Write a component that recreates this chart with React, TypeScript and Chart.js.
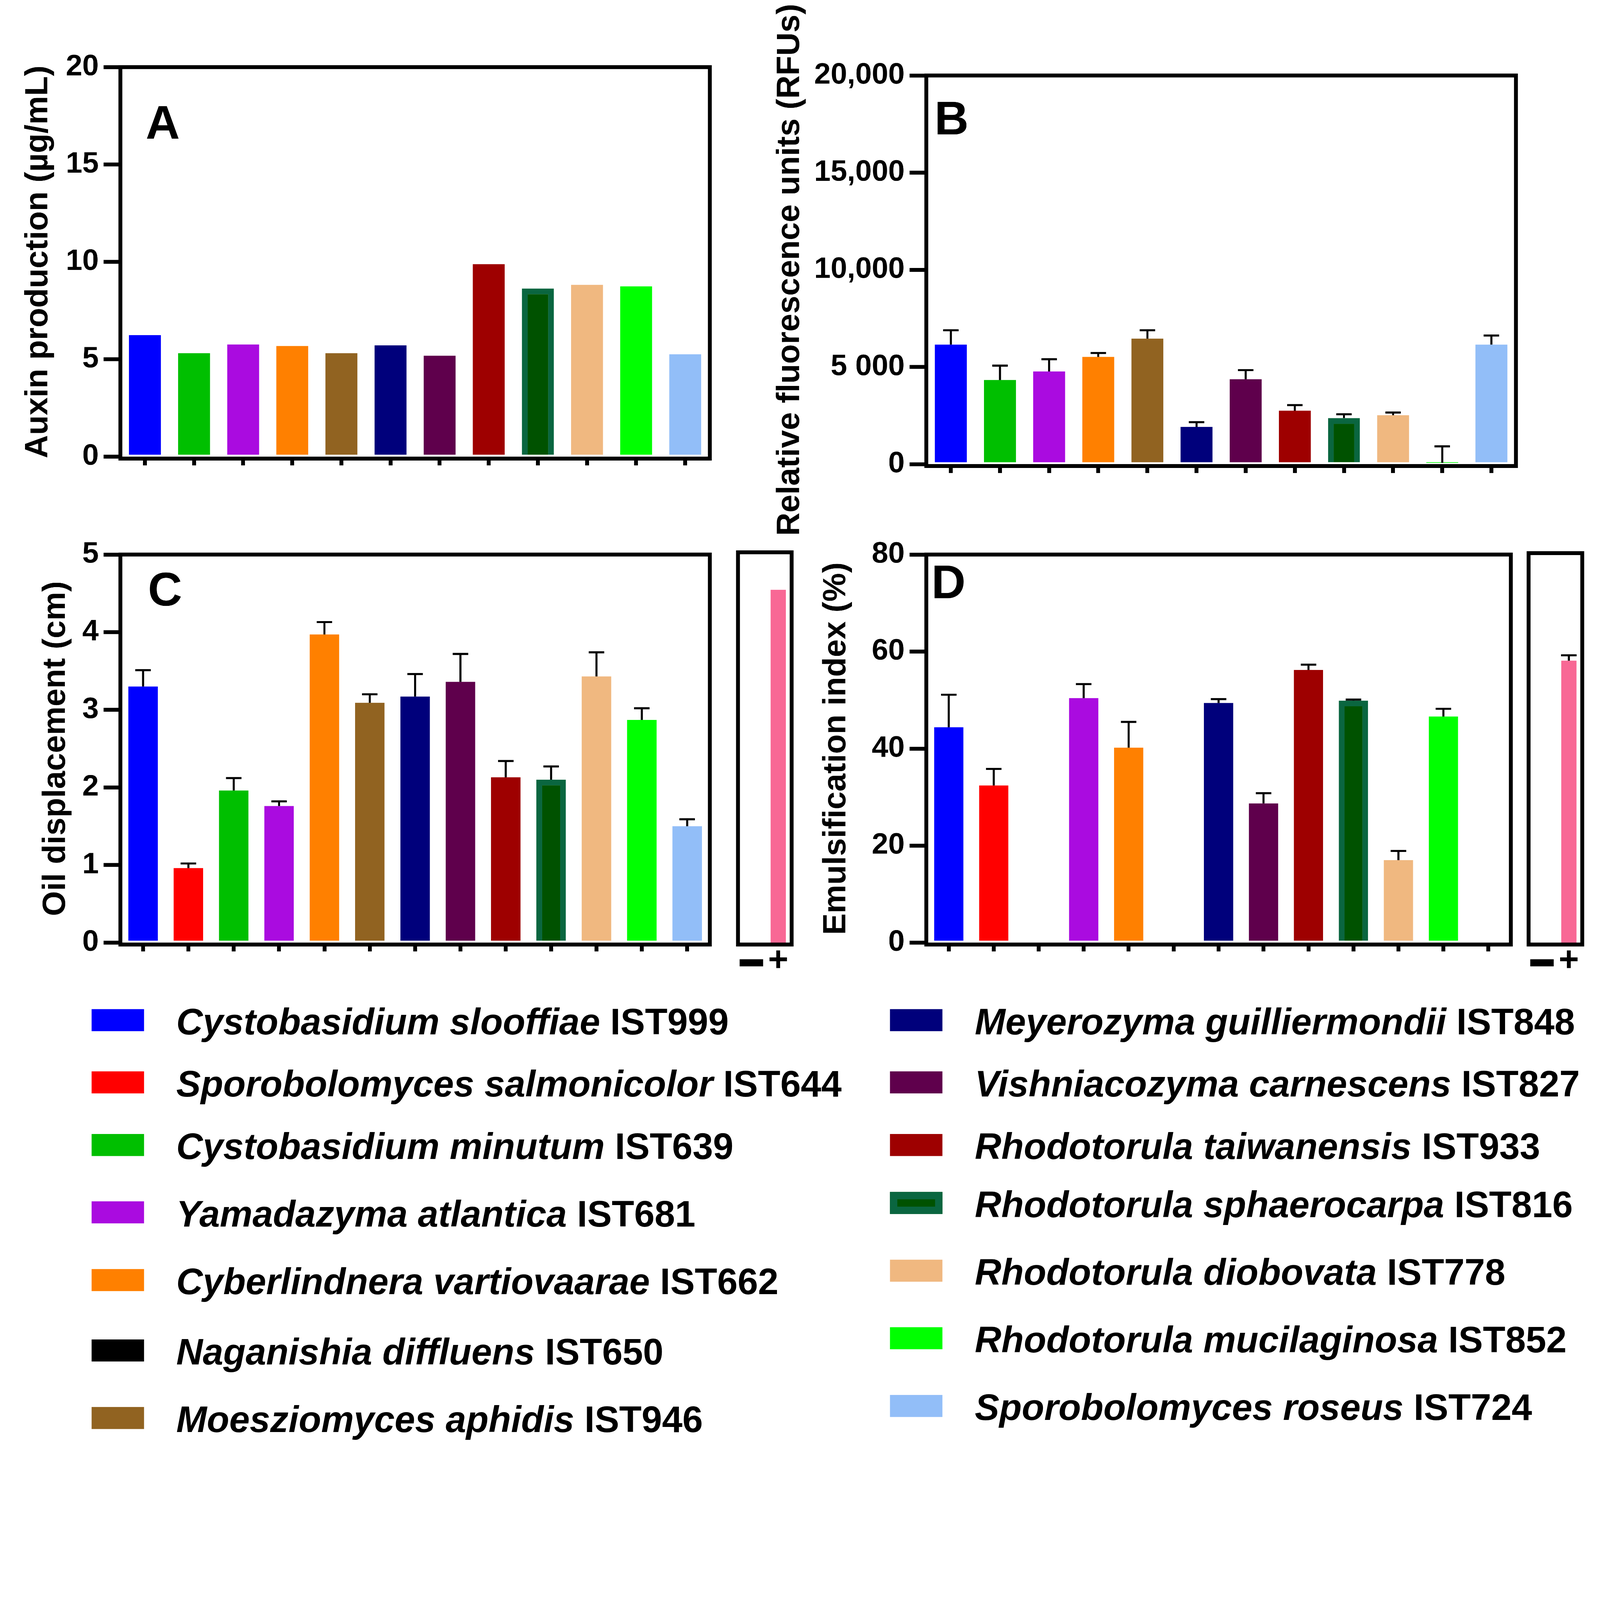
import { useEffect, useRef, useState } from 'react';
import { Chart, registerables } from 'chart.js';

Chart.register(...registerables);

const FONT = '"Liberation Sans", Arial, Helvetica, sans-serif';
const PAGE_W = 7842;
const PAGE_H = 7110;
const LINE = 19; // frame / tick thickness

// categories
const CATS_AB = [
  'Cystobasidium slooffiae', 'Cystobasidium minutum', 'Yamadazyma atlantica', 'Cyberlindnera vartiovaarae',
  'Moesziomyces aphidis', 'Meyerozyma guilliermondii', 'Vishniacozyma carnescens', 'Rhodotorula taiwanensis',
  'Rhodotorula sphaerocarpa', 'Rhodotorula diobovata', 'Rhodotorula mucilaginosa', 'Sporobolomyces roseus',
];
const CATS_CD = [
  'Cystobasidium slooffiae', 'Sporobolomyces salmonicolor', 'Cystobasidium minutum', 'Yamadazyma atlantica',
  'Cyberlindnera vartiovaarae', 'Moesziomyces aphidis', 'Meyerozyma guilliermondii', 'Vishniacozyma carnescens',
  'Rhodotorula taiwanensis', 'Rhodotorula sphaerocarpa', 'Rhodotorula diobovata', 'Rhodotorula mucilaginosa',
  'Sporobolomyces roseus',
];
const CONTROLS = ['\u25AC', '+'];

// values (mean) and upper SD
const AUXIN = [6.24, 5.31, 5.76, 5.68, 5.31, 5.71, 5.18, 9.88, 8.63, 8.82, 8.74, 5.26];
const RFU = [6150, 4330, 4770, 5520, 6460, 1920, 4370, 2750, 2370, 2520, 65, 6150];
const RFU_SD = [740, 740, 630, 200, 430, 240, 470, 290, 200, 140, 850, 470];
const OIL = [3.3, 0.96, 1.96, 1.76, 3.97, 3.09, 3.17, 3.36, 2.13, 2.1, 3.43, 2.87, 1.5];
const OIL_SD = [0.21, 0.06, 0.16, 0.06, 0.16, 0.11, 0.29, 0.36, 0.21, 0.17, 0.31, 0.15, 0.09];
const OIL_CTRL = [0, 4.52];
const OIL_CTRL_SD = [0, 0];
const EI = [44.4, 32.4, 0, 50.4, 40.2, 0, 49.4, 28.7, 56.2, 49.9, 17.0, 46.6, 0];
const EI_SD = [6.7, 3.4, 0, 2.9, 5.3, 0, 0.8, 2.1, 1.1, 0.2, 1.9, 1.6, 0];
const EI_CTRL = [0, 57.9];
const EI_CTRL_SD = [0, 1.1];

// tick labels
const A_TICKS = ['0', '5', '10', '15', '20'];
const B_TICKS = ['0', '5 000', '10,000', '15,000', '20,000'];
const C_TICKS = ['0', '1', '2', '3', '4', '5'];
const D_TICKS = ['0', '20', '40', '60', '80'];

const COLOR: Record<string, string> = {
  'Cystobasidium slooffiae': '#0000FF',
  'Sporobolomyces salmonicolor': '#FF0000',
  'Cystobasidium minutum': '#00BF00',
  'Yamadazyma atlantica': '#AA0BE0',
  'Cyberlindnera vartiovaarae': '#FF8000',
  'Naganishia diffluens': '#000000',
  'Moesziomyces aphidis': '#916321',
  'Meyerozyma guilliermondii': '#00007B',
  'Vishniacozyma carnescens': '#5F004C',
  'Rhodotorula taiwanensis': '#9E0000',
  'Rhodotorula sphaerocarpa': '#005200',
  'Rhodotorula diobovata': '#F0B880',
  'Rhodotorula mucilaginosa': '#00FF00',
  'Sporobolomyces roseus': '#92BEF8',
};
const EDGE_GREEN = '#0A6640';
const PINK = '#F86895';

const LEGEND_LEFT = [
  ['Cystobasidium slooffiae', 'IST999'],
  ['Sporobolomyces salmonicolor', 'IST644'],
  ['Cystobasidium minutum', 'IST639'],
  ['Yamadazyma atlantica', 'IST681'],
  ['Cyberlindnera vartiovaarae', 'IST662'],
  ['Naganishia diffluens', 'IST650'],
  ['Moesziomyces aphidis', 'IST946'],
];
const LEGEND_RIGHT = [
  ['Meyerozyma guilliermondii', 'IST848'],
  ['Vishniacozyma carnescens', 'IST827'],
  ['Rhodotorula taiwanensis', 'IST933'],
  ['Rhodotorula sphaerocarpa', 'IST816'],
  ['Rhodotorula diobovata', 'IST778'],
  ['Rhodotorula mucilaginosa', 'IST852'],
  ['Sporobolomyces roseus', 'IST724'],
];
const LEFT_ROWS_Y = [5000, 5305, 5612, 5942, 6274, 6619, 6950];
const RIGHT_ROWS_Y = [5000, 5305, 5612, 5896, 6228, 6559, 6891];

interface PanelSpec {
  id: string;
  canvas: { x: number; y: number; w: number; h: number };
  // L/T/R = centre of the frame lines, B = value zero (top edge of the bottom line)
  area: { L: number; T: number; R: number; B: number };
  labels: string[];
  values: number[];
  sd?: number[];
  colors: string[];
  max: number;
  step: number;
  tickLabels?: string[];
  barPct: number;
  title?: string;
  titleDx?: number;
  letter?: string;
  letterDx?: number;
  letterDy?: number;
  control?: boolean;
}

const decoPlugin = {
  id: 'deco',
  afterDatasetsDraw(chart: any, _args: any, opts: any) {
    const { ctx, chartArea: a } = chart;
    const y = chart.scales.y;
    const meta = chart.getDatasetMeta(0);
    const vals = chart.data.datasets[0].data as number[];
    const sd: number[] = opts.sd || [];
    ctx.save();
    ctx.strokeStyle = '#000';
    ctx.lineCap = 'butt';
    meta.data.forEach((bar: any, i: number) => {
      const e = sd[i];
      if (!e) return;
      const y0 = y.getPixelForValue(vals[i]);
      const y1 = y.getPixelForValue(vals[i] + e);
      ctx.lineWidth = 10;
      ctx.beginPath();
      ctx.moveTo(bar.x, y0);
      ctx.lineTo(bar.x, y1);
      ctx.stroke();
      ctx.beginPath();
      ctx.moveTo(bar.x - 38, y1);
      ctx.lineTo(bar.x + 38, y1);
      ctx.stroke();
    });
    // frame: bottom line sits just under the zero baseline
    ctx.lineWidth = LINE;
    ctx.lineJoin = 'miter';
    ctx.strokeRect(a.left, a.top, a.right - a.left, a.bottom - a.top + LINE / 2);
    ctx.fillStyle = '#000';
    if (opts.letter) {
      ctx.font = `bold 232px ${FONT}`;
      ctx.textAlign = 'left';
      ctx.textBaseline = 'alphabetic';
      ctx.fillText(opts.letter, a.left + opts.letterDx, a.top + opts.letterDy);
    }
    if (opts.title) {
      ctx.translate(a.left + opts.titleDx, (a.top + a.bottom) / 2);
      ctx.rotate(-Math.PI / 2);
      ctx.font = `bold 158px ${FONT}`;
      ctx.textAlign = 'center';
      ctx.textBaseline = 'middle';
      ctx.fillText(opts.title, 0, 0);
    }
    ctx.restore();
  },
};

function buildConfig(p: PanelSpec): any {
  const { canvas: c, area } = p;
  const yWidth = p.control ? 0 : area.L - c.x;
  const xHeight = c.y + c.h - area.B;
  const edges = p.labels.map((l, i) => (l === 'Rhodotorula sphaerocarpa' ? EDGE_GREEN : p.colors[i]));
  const widths = p.labels.map((l) => (l === 'Rhodotorula sphaerocarpa' ? 28 : 0));
  return {
    type: 'bar',
    data: {
      labels: p.labels,
      datasets: [{
        data: p.values,
        backgroundColor: p.colors,
        borderColor: edges,
        borderWidth: widths,
        borderSkipped: 'start',
        barPercentage: p.barPct,
        categoryPercentage: 1,
      }],
    },
    options: {
      responsive: false,
      animation: false,
      devicePixelRatio: 1,
      layout: {
        padding: {
          left: p.control ? area.L - c.x : 0,
          top: area.T - c.y,
          right: c.x + c.w - area.R,
          bottom: 0,
        },
      },
      plugins: {
        legend: { display: false },
        tooltip: { enabled: false },
        deco: {
          sd: p.sd,
          title: p.title,
          titleDx: p.titleDx,
          letter: p.letter,
          letterDx: p.letterDx,
          letterDy: p.letterDy,
        },
      },
      scales: {
        x: {
          offset: true,
          border: { display: false },
          grid: {
            display: !p.control,
            offset: false,
            drawOnChartArea: false,
            drawTicks: !p.control,
            tickLength: 43,
            lineWidth: LINE,
            color: '#000',
          },
          ticks: {
            display: !!p.control,
            autoSkip: false,
            maxRotation: 0,
            padding: 18,
            color: '#000',
            // the dash and the plus need different sizes; lineHeight sets their vertical place
            font: (ctx: any) => (ctx.index === 0
              ? { family: '"Liberation Sans", "DejaVu Sans", sans-serif', size: 115, lineHeight: 1.15, weight: 'bold' }
              : { family: '"Liberation Sans", "DejaVu Sans", sans-serif', size: 170, lineHeight: 0.86, weight: 'bold' }),
          },
          afterFit: (s: any) => {
            s.height = xHeight;
            s.paddingLeft = 0;
            s.paddingRight = 0;
          },
        },
        y: {
          display: !p.control,
          min: 0,
          max: p.max,
          border: { display: false },
          grid: {
            drawOnChartArea: false,
            drawTicks: true,
            tickLength: 82,
            lineWidth: LINE,
            color: '#000',
          },
          ticks: {
            stepSize: p.step,
            padding: 24,
            color: '#000',
            font: { family: FONT, size: 145, weight: 'bold' },
            callback: (_v: any, i: number) => (p.tickLabels ? p.tickLabels[i] : ''),
          },
          afterFit: (s: any) => {
            s.width = yWidth;
            s.paddingTop = 0;
            s.paddingBottom = 0;
          },
        },
      },
    },
    plugins: [decoPlugin],
  };
}

const PANELS: PanelSpec[] = [
  {
    id: 'A',
    canvas: { x: 0, y: 150, w: 3560, h: 2202 },
    area: { L: 590, T: 329, R: 3479, B: 2238 },
    labels: CATS_AB,
    values: AUXIN,
    colors: CATS_AB.map((k) => COLOR[k]),
    max: 20,
    step: 5,
    tickLabels: A_TICKS,
    barPct: 0.65,
    title: 'Auxin production (\u00b5g/mL)',
    titleDx: -402,
    letter: 'A',
    letterDx: 124,
    letterDy: 351,
  },
  {
    id: 'B',
    canvas: { x: 3700, y: 0, w: 3820, h: 2700 },
    area: { L: 4540, T: 370, R: 7430, B: 2275 },
    labels: CATS_AB,
    values: RFU,
    sd: RFU_SD,
    colors: CATS_AB.map((k) => COLOR[k]),
    max: 20000,
    step: 5000,
    tickLabels: B_TICKS,
    barPct: 0.65,
    title: 'Relative fluorescence units (RFUs)',
    titleDx: -668,
    letter: 'B',
    letterDx: 40,
    letterDy: 289,
  },
  {
    id: 'C',
    canvas: { x: 0, y: 2550, w: 3540, h: 2200 },
    area: { L: 590, T: 2718, R: 3479, B: 4620 },
    labels: CATS_CD,
    values: OIL,
    sd: OIL_SD,
    colors: CATS_CD.map((k) => COLOR[k]),
    max: 5,
    step: 1,
    tickLabels: C_TICKS,
    barPct: 0.65,
    title: 'Oil displacement (cm)',
    titleDx: -316,
    letter: 'C',
    letterDx: 135,
    letterDy: 250,
  },
  {
    id: 'Cc',
    canvas: { x: 3550, y: 2600, w: 400, h: 2200 },
    area: { L: 3617, T: 2707, R: 3880, B: 4620 },
    labels: CONTROLS,
    values: OIL_CTRL,
    sd: OIL_CTRL_SD,
    colors: [PINK, PINK],
    max: 5,
    step: 1,
    barPct: 0.57,
    control: true,
  },
  {
    id: 'D',
    canvas: { x: 3960, y: 2550, w: 3520, h: 2200 },
    area: { L: 4540, T: 2718, R: 7405, B: 4620 },
    labels: CATS_CD,
    values: EI,
    sd: EI_SD,
    colors: CATS_CD.map((k) => COLOR[k]),
    max: 80,
    step: 20,
    tickLabels: D_TICKS,
    barPct: 0.65,
    title: 'Emulsification index (%)',
    titleDx: -441,
    letter: 'D',
    letterDx: 25,
    letterDy: 214,
  },
  {
    id: 'Dc',
    canvas: { x: 7420, y: 2600, w: 422, h: 2200 },
    area: { L: 7492, T: 2711, R: 7755, B: 4620 },
    labels: CONTROLS,
    values: EI_CTRL,
    sd: EI_CTRL_SD,
    colors: [PINK, PINK],
    max: 80,
    step: 20,
    barPct: 0.57,
    control: true,
  },
];

function Panel({ spec }: { spec: PanelSpec }) {
  const ref = useRef<HTMLCanvasElement>(null);

  useEffect(() => {
    if (!ref.current) return;
    const chart = new Chart(ref.current, buildConfig(spec));
    return () => {
      chart.destroy();
    };
  }, [spec]);

  const c = spec.canvas;
  return (
    <canvas
      ref={ref}
      width={c.w}
      height={c.h}
      style={{ position: 'absolute', left: c.x, top: c.y, width: c.w, height: c.h }}
    />
  );
}

function LegendRow({ name, strain, x, textX, cy }: { name: string; strain: string; x: number; textX: number; cy: number }) {
  const sphaero = name === 'Rhodotorula sphaerocarpa';
  return (
    <>
      <div
        style={{
          position: 'absolute',
          left: x,
          top: cy - 54,
          width: 257,
          height: 108,
          boxSizing: 'border-box',
          background: COLOR[name],
          border: sphaero ? `36px solid ${EDGE_GREEN}` : 'none',
        }}
      />
      <div
        style={{
          position: 'absolute',
          left: textX,
          top: cy - 83,
          fontFamily: FONT,
          fontWeight: 'bold',
          fontSize: 180,
          lineHeight: '180px',
          whiteSpace: 'nowrap',
          color: '#000',
        }}
      >
        <i>{name}</i> {strain}
      </div>
    </>
  );
}

export default function App() {
  // fit the 7842x7110 figure into whatever CSS viewport we get
  const [scale] = useState(() => {
    const s = Math.min(window.innerWidth / PAGE_W, window.innerHeight / PAGE_H);
    return s > 0 && s < 1 ? s : 1;
  });

  return (
    <div
      style={{
        position: 'absolute',
        left: 0,
        top: 0,
        width: PAGE_W * scale,
        height: PAGE_H * scale,
        overflow: 'hidden',
        background: '#fff',
      }}
    >
      <div
        style={{
          position: 'absolute',
          left: 0,
          top: 0,
          width: PAGE_W,
          height: PAGE_H,
          transform: `scale(${scale})`,
          transformOrigin: '0 0',
          background: '#fff',
        }}
      >
        {PANELS.map((p) => (
          <Panel key={p.id} spec={p} />
        ))}
        {LEGEND_LEFT.map(([n, s], i) => (
          <LegendRow key={n} name={n} strain={s} x={449} textX={864} cy={LEFT_ROWS_Y[i]} />
        ))}
        {LEGEND_RIGHT.map(([n, s], i) => (
          <LegendRow key={n} name={n} strain={s} x={4362} textX={4778} cy={RIGHT_ROWS_Y[i]} />
        ))}
      </div>
    </div>
  );
}
